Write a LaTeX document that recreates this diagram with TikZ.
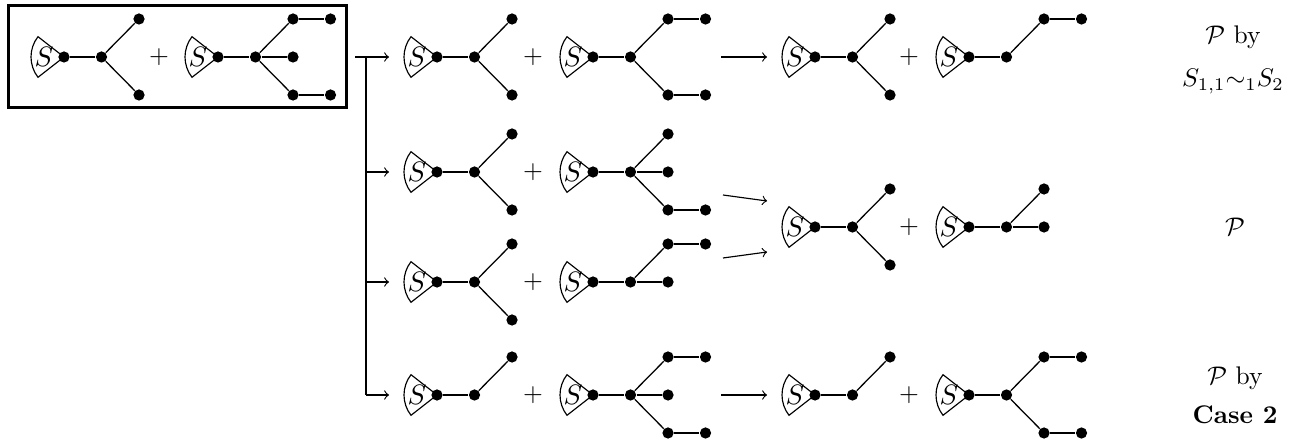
\documentclass[tikz,border=0pt]{standalone}
\newcommand{\treebase}{%
  \draw[sectline] (0,0) -- (142:33) arc[start angle=142, end angle=218, radius=33] -- cycle;
  \node[slabel] (-s) at (-20,0) {$S$};
  \node[dot] (-r) at (0,0) {};
  \node[dot] (-v) at (37.5,0) {};
  \draw[edge] (-r) -- (-v);}
\newcommand{\mkleaf}[4]{\node[dot] (#1) at (#2,#3) {}; \draw[edge] (#4) -- (#1);}
\begin{document}
\begin{tikzpicture}[x=0.3922pt, y=0.3922pt,
  dot/.style={circle, fill=black, inner sep=0pt, minimum size=4.4pt},
  edge/.style={line width=0.5pt},
  sectline/.style={line width=0.45pt},
  slabel/.style={inner sep=0pt, scale=1.1},
  arr/.style={->, line width=0.45pt},
  branch/.style={line width=0.55pt},
  lbl/.style={inner sep=0pt, anchor=base},
  tA/.pic={\treebase \mkleaf{-a}{75}{38}{-v}\mkleaf{-b}{75}{-38}{-v}},
  tB/.pic={\treebase \mkleaf{-a}{75}{38}{-v}\mkleaf{-b}{75}{-38}{-v}\mkleaf{-c}{112.5}{38}{-a}\mkleaf{-d}{112.5}{-38}{-b}},
  tC/.pic={\treebase \mkleaf{-a}{75}{38}{-v}\mkleaf{-m}{75}{0}{-v}\mkleaf{-b}{75}{-38}{-v}\mkleaf{-c}{112.5}{38}{-a}\mkleaf{-d}{112.5}{-38}{-b}},
  tD/.pic={\treebase \mkleaf{-a}{75}{38}{-v}\mkleaf{-m}{75}{0}{-v}\mkleaf{-b}{75}{-38}{-v}\mkleaf{-d}{112.5}{-38}{-b}},
  tE/.pic={\treebase \mkleaf{-a}{75}{38}{-v}\mkleaf{-m}{75}{0}{-v}\mkleaf{-c}{112.5}{38}{-a}},
  tF/.pic={\treebase \mkleaf{-a}{75}{38}{-v}\mkleaf{-c}{112.5}{38}{-a}},
  tG/.pic={\treebase \mkleaf{-a}{75}{38}{-v}},
  tH/.pic={\treebase \mkleaf{-a}{75}{38}{-v}\mkleaf{-m}{75}{0}{-v}},
]
\useasboundingbox (0,0) rectangle (1304,-443);
% boxed start
\node[draw, line width=1.2pt, minimum width=132.6pt, minimum height=40.2pt, inner sep=0pt] (box) at (177.6,-56.5) {};
\pic (b1) at (64,-57) {tA};
\node (bp) at (159,-57) {$+$};
\pic (b2) at (218,-57) {tC};
% branching connector
\coordinate (s0) at (355,-57);
\coordinate (j1) at (366,-57);
\coordinate (j2) at (366,-172);
\coordinate (j3) at (366,-282);
\coordinate (j4) at (366,-395);
\coordinate (e1) at (389,-57);
\coordinate (e2) at (389,-172);
\coordinate (e3) at (389,-282);
\coordinate (e4) at (389,-395);
\draw[arr] (s0) -- (e1);
\draw[branch] (j1) -- (j4);
\draw[arr] (j2) -- (e2);
\draw[arr] (j3) -- (e3);
\draw[arr] (j4) -- (e4);
% row 1
\pic (r1a) at (437,-57) {tA};
\node (p1a) at (533,-57) {$+$};
\pic (r1b) at (593,-57) {tB};
\coordinate (f1s) at (721,-57);
\coordinate (f1e) at (767,-57);
\draw[arr] (f1s) -- (f1e);
\pic (r1c) at (815,-57) {tA};
\node (p1c) at (909,-57) {$+$};
\pic (r1d) at (969,-57) {tF};
\node[lbl] (l1a) at (1233,-44) {$\mathcal{P}$ by};
\node[lbl] (l1b) at (1233,-87) {$S_{1,1}{\sim_1}S_2$};
% row 2
\pic (r2a) at (437,-172) {tA};
\node (p2a) at (533,-172) {$+$};
\pic (r2b) at (593,-172) {tD};
% row 3
\pic (r3a) at (437,-282) {tA};
\node (p3a) at (533,-282) {$+$};
\pic (r3b) at (593,-282) {tE};
% merge arrows
\coordinate (g2s) at (723,-195);
\coordinate (g2e) at (767,-201);
\coordinate (g3s) at (723,-258);
\coordinate (g3e) at (767,-252);
\draw[arr] (g2s) -- (g2e);
\draw[arr] (g3s) -- (g3e);
% merged result
\pic (m1) at (815,-227) {tA};
\node (pm) at (909,-227) {$+$};
\pic (m2) at (969,-227) {tH};
\node (lm) at (1235,-227) {$\mathcal{P}$};
% row 4
\pic (r4a) at (437,-395) {tG};
\node (p4a) at (533,-395) {$+$};
\pic (r4b) at (593,-395) {tC};
\coordinate (f4s) at (721,-395);
\coordinate (f4e) at (767,-395);
\draw[arr] (f4s) -- (f4e);
\pic (r4c) at (815,-395) {tG};
\node (p4c) at (909,-395) {$+$};
\pic (r4d) at (969,-395) {tB};
\node[lbl] (l4a) at (1235,-385) {$\mathcal{P}$ by};
\node[lbl] (l4b) at (1235,-424) {\textbf{Case 2}};
\end{tikzpicture}
\end{document}
